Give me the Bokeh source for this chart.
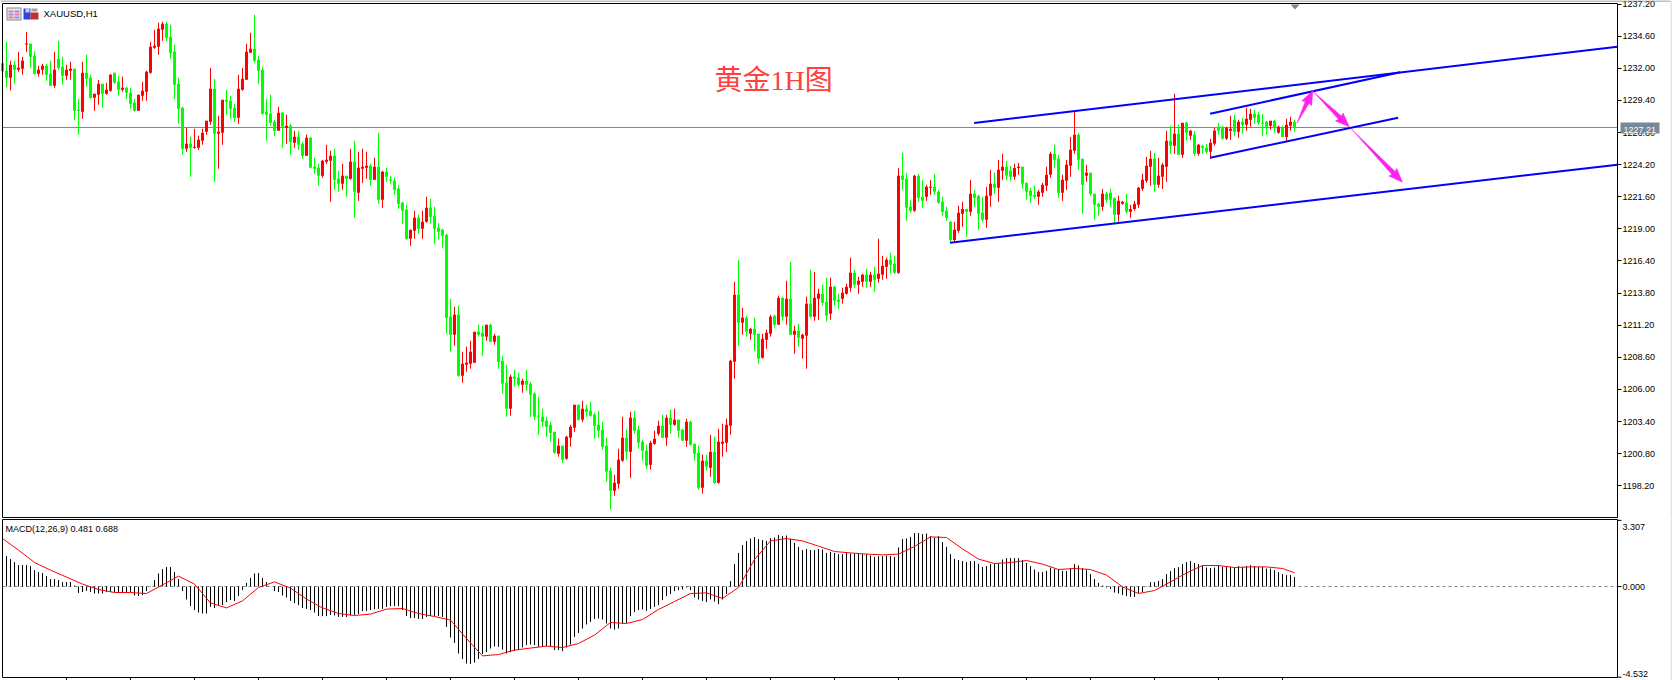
from bokeh.embed import file_html
from bokeh.layouts import column
from bokeh.models import (BoxAnnotation, ColumnDataSource, FixedTicker, Label, LinearAxis,
                          NumeralTickFormatter, PolyAnnotation, Range1d, Span)
from bokeh.plotting import figure
from bokeh.resources import INLINE

SYMBOL = "XAUUSD,H1"
MACD_NAME = "MACD(12,26,9) 0.481 0.688"
TITLE = "黄金1H图"

DIRECTION = ("GGRGRRRGGR" "RGGRGGRRGG" "RGGRRGRRGG" "RGGGRRRRRR" "RGGGGGRGRR" "RRRGRRGGGR" "RRRGGGGGGR"
             "GRGRGGRGGG" "RRRGGRGRGR" "RRGRGRGGGG" "GGRRGRRGGG" "GGGRGRRRRG" "GRGRGGGRGG" "RGGGGGGGGR"
             "GRRRGRGGGG" "GGGRRRGRGG" "GGRRRGRGRG" "GRGGGRGRGR" "RRRRGRGRGG" "RRRGRGRGRG" "RRGRRGGRGG"
             "RRRGRRGRGR" "RRGGRGGGRG" "GRRGGGGGRR" "RGRGGGRRGR" "RGGRRGGGGR" "RRRGGRRRRG" "GRGGGRGGGR"
             "RGRRRRRRGR" "RRGRGRGRGR" "GGRRGGRRGR" "GRRGGGGRGR" "GRRG")

HIGH = [
 1233.37,1234.17,1232.61,1232.61,1233.34,1232.93,1234.96,1234.01,1233.37,1232.21,
 1232.37,1232.37,1232.61,1233.34,1234.23,1232.93,1232.29,1232.53,1231.96,1229.53,
 1232.53,1233.10,1231.48,1229.94,1231.07,1230.75,1230.83,1231.56,1231.64,1231.40,
 1231.32,1230.51,1230.42,1229.53,1229.86,1230.91,1231.80,1234.15,1235.12,1235.69,
 1235.77,1235.77,1235.53,1233.91,1231.23,1228.89,1227.19,1226.46,1227.11,1226.54,
 1227.11,1227.75,1232.04,1231.15,1228.16,1229.45,1230.26,1229.78,1229.13,1231.48,
 1232.04,1233.99,1234.88,1236.34,1233.02,1232.12,1229.53,1229.86,1227.83,1228.89,
 1228.48,1228.24,1227.51,1226.94,1226.94,1226.05,1226.62,1226.46,1224.76,1224.27,
 1224.59,1225.81,1225.32,1225.49,1223.70,1224.27,1223.30,1225.49,1226.13,1225.24,
 1225.49,1225.24,1224.27,1224.76,1226.78,1223.70,1223.95,1223.30,1223.14,1222.57,
 1221.19,1220.95,1218.93,1220.47,1220.14,1220.47,1221.60,1221.44,1220.79,1219.49,
 1219.01,1218.60,1213.34,1212.70,1212.78,1209.05,1209.46,1209.94,1210.67,1211.24,
 1211.16,1211.24,1211.32,1210.51,1210.35,1208.73,1208.00,1207.19,1207.59,1207.35,
 1206.87,1207.59,1206.62,1205.81,1205.41,1204.44,1203.79,1203.38,1202.57,1202.01,
 1201.44,1202.25,1203.14,1204.76,1204.76,1205.08,1204.76,1205.00,1204.11,1204.27,
 1203.38,1202.09,1199.66,1199.09,1201.20,1203.79,1202.74,1204.19,1204.27,1203.06,
 1201.93,1201.52,1201.85,1202.66,1203.47,1203.95,1203.95,1204.36,1204.44,1203.55,
 1202.82,1203.63,1203.47,1201.60,1201.44,1200.71,1200.71,1202.33,1202.17,1202.82,
 1203.22,1203.63,1208.40,1214.72,1216.50,1212.61,1211.97,1210.99,1211.81,1210.51,
 1210.51,1210.83,1212.05,1212.05,1213.59,1213.51,1214.80,1216.34,1211.16,1211.32,
 1210.51,1213.51,1215.69,1215.53,1214.15,1214.48,1215.04,1215.04,1214.40,1213.75,
 1214.23,1214.56,1216.66,1215.69,1215.12,1215.37,1215.77,1215.53,1215.93,1218.20,
 1216.82,1216.66,1217.07,1216.82,1223.92,1225.16,1223.51,1221.35,1223.38,1223.46,
 1222.97,1222.57,1222.97,1223.46,1222.16,1221.60,1220.79,1219.65,1219.57,1220.87,
 1221.19,1220.62,1222.97,1222.16,1221.76,1221.60,1222.41,1223.78,1223.54,1224.59,
 1225.08,1224.51,1224.11,1224.27,1224.35,1224.03,1222.73,1222.33,1222.49,1222.16,
 1222.73,1224.03,1225.24,1225.81,1225.00,1223.38,1224.59,1226.45,1228.48,1226.78,
 1224.67,1224.19,1223.54,1221.84,1221.11,1222.24,1222.00,1222.24,1221.52,1221.68,
 1221.27,1221.84,1220.95,1221.27,1222.41,1223.46,1224.83,1225.32,1225.16,1224.75,
 1224.35,1226.94,1227.34,1229.94,1227.43,1227.59,1227.67,1227.02,1226.94,1225.89,
 1225.81,1225.89,1226.29,1227.18,1227.59,1227.35,1227.27,1228.16,1228.24,1227.83,
 1227.99,1228.80,1228.72,1228.64,1228.48,1228.32,1227.75,1227.75,1227.83,1227.35,
 1227.35,1227.91,1228.08,1227.83]

BODY_TOP = [
 1232.42,1231.80,1232.29,1232.29,1232.04,1232.61,1234.01,1233.99,1233.02,1231.88,
 1232.21,1232.21,1231.56,1231.88,1232.77,1232.12,1231.88,1231.96,1231.96,1228.64,
 1231.64,1231.64,1231.23,1229.94,1230.75,1230.75,1230.26,1231.48,1231.64,1230.91,
 1230.42,1230.42,1230.02,1229.21,1229.86,1230.18,1231.72,1233.74,1233.83,1235.20,
 1235.61,1235.61,1234.55,1233.34,1230.75,1228.81,1225.89,1225.89,1225.65,1226.21,
 1226.78,1227.75,1230.34,1230.34,1226.86,1229.45,1229.45,1229.37,1228.81,1230.34,
 1231.15,1233.34,1233.58,1233.58,1232.69,1231.88,1228.48,1228.32,1227.67,1228.40,
 1228.40,1227.35,1227.35,1226.46,1226.46,1225.89,1226.38,1226.38,1224.03,1223.95,
 1224.51,1224.59,1224.92,1224.92,1223.06,1223.30,1223.30,1224.43,1224.43,1223.95,
 1224.03,1224.11,1224.11,1224.03,1224.03,1223.62,1223.62,1222.98,1222.89,1222.25,
 1221.11,1220.55,1218.93,1219.90,1219.90,1219.57,1220.71,1220.71,1220.06,1219.09,
 1218.93,1218.52,1211.89,1212.05,1212.05,1208.08,1208.16,1209.05,1210.67,1210.67,
 1210.59,1211.24,1211.24,1210.35,1210.35,1208.32,1206.54,1207.03,1207.03,1206.95,
 1206.70,1206.70,1206.46,1205.65,1203.87,1203.79,1203.47,1203.14,1202.57,1201.44,
 1201.44,1202.17,1202.98,1204.76,1204.76,1204.44,1204.44,1204.27,1203.95,1203.14,
 1202.74,1201.44,1199.42,1198.44,1200.31,1202.09,1202.09,1203.71,1203.71,1202.74,
 1201.76,1201.03,1201.68,1202.01,1203.06,1203.06,1203.71,1203.71,1203.55,1203.55,
 1202.74,1203.38,1203.38,1201.60,1200.87,1200.23,1200.23,1200.95,1200.95,1201.76,
 1201.76,1203.14,1208.32,1213.67,1213.67,1211.81,1211.81,1210.91,1210.91,1210.51,
 1210.10,1210.59,1211.89,1211.97,1213.42,1213.42,1213.34,1213.34,1210.75,1210.75,
 1210.43,1212.94,1212.94,1213.42,1213.75,1213.75,1213.10,1214.31,1214.31,1213.26,
 1213.83,1214.31,1215.45,1215.45,1214.80,1215.29,1215.29,1215.29,1215.29,1215.37,
 1216.01,1216.50,1216.50,1216.18,1223.30,1223.30,1223.05,1220.79,1223.30,1223.30,
 1221.60,1222.41,1222.41,1222.41,1222.00,1221.19,1220.46,1219.57,1218.92,1220.30,
 1220.62,1220.62,1221.84,1221.84,1221.68,1220.30,1221.68,1222.65,1222.65,1223.78,
 1224.03,1224.03,1223.70,1223.94,1224.03,1224.03,1222.73,1222.08,1221.76,1222.00,
 1222.57,1223.38,1225.08,1225.08,1224.67,1222.97,1224.19,1225.40,1226.62,1226.62,
 1224.67,1223.54,1223.54,1221.84,1221.03,1221.84,1221.84,1221.92,1221.52,1221.27,
 1221.19,1221.11,1220.62,1221.03,1222.33,1222.97,1224.11,1224.67,1224.67,1223.30,
 1224.19,1226.13,1226.13,1226.70,1226.70,1227.59,1227.59,1226.94,1226.62,1225.81,
 1225.73,1225.57,1225.97,1226.94,1227.27,1227.27,1227.18,1227.10,1227.83,1227.67,
 1227.67,1227.91,1228.32,1228.32,1228.24,1227.59,1227.67,1227.75,1227.75,1227.27,
 1227.18,1227.43,1227.67,1227.67]

BODY_BOTTOM = [
 1231.75,1231.23,1231.23,1231.88,1231.88,1231.96,1233.93,1232.93,1231.56,1231.56,
 1231.88,1231.48,1230.59,1230.59,1232.04,1231.40,1231.40,1231.80,1228.56,1228.56,
 1228.48,1231.15,1229.62,1229.62,1229.86,1229.94,1229.94,1230.18,1230.83,1230.26,
 1230.26,1230.02,1229.13,1228.56,1228.56,1229.78,1230.10,1231.64,1233.66,1233.74,
 1235.12,1234.47,1233.26,1230.67,1228.72,1225.49,1225.49,1225.57,1225.57,1225.57,
 1226.13,1226.86,1227.67,1226.70,1226.70,1226.78,1229.29,1228.72,1228.00,1228.00,
 1230.26,1231.07,1233.26,1232.61,1231.80,1228.32,1228.24,1227.59,1226.94,1226.94,
 1227.27,1227.19,1226.05,1225.97,1225.81,1224.92,1224.92,1223.95,1223.87,1223.30,
 1223.30,1224.43,1224.51,1222.98,1222.65,1222.65,1223.06,1223.06,1222.00,1221.92,
 1223.87,1223.95,1222.98,1222.98,1221.36,1221.36,1223.22,1222.89,1222.17,1221.03,
 1220.47,1218.20,1218.20,1218.85,1219.01,1219.01,1219.57,1219.98,1219.01,1218.77,
 1218.44,1211.80,1210.43,1210.43,1207.11,1207.11,1208.00,1208.08,1208.16,1210.43,
 1210.27,1210.27,1209.86,1209.86,1208.24,1206.46,1204.44,1204.44,1206.87,1206.38,
 1206.38,1206.38,1205.57,1203.79,1203.79,1203.38,1202.98,1202.49,1200.87,1200.79,
 1200.31,1200.39,1202.09,1202.90,1203.55,1203.55,1204.19,1203.87,1203.06,1202.66,
 1201.36,1199.34,1197.80,1197.80,1198.36,1200.23,1200.95,1200.95,1202.66,1201.68,
 1201.03,1199.82,1199.90,1201.60,1202.41,1202.09,1202.09,1203.14,1203.14,1202.66,
 1201.85,1201.85,1201.52,1200.79,1198.04,1198.04,1199.74,1199.66,1198.44,1198.44,
 1201.60,1201.68,1203.06,1208.24,1211.40,1211.40,1210.67,1210.51,1210.43,1208.49,
 1208.57,1210.02,1210.51,1211.24,1211.24,1211.89,1211.89,1210.43,1210.43,1210.19,
 1210.10,1210.35,1211.89,1211.89,1213.34,1213.02,1211.97,1212.13,1213.18,1213.10,
 1213.34,1213.75,1214.23,1214.48,1214.48,1214.72,1214.72,1214.72,1214.88,1214.96,
 1215.29,1215.93,1216.10,1215.45,1215.44,1222.97,1220.71,1220.46,1220.46,1221.52,
 1221.27,1221.60,1222.33,1222.00,1221.11,1220.38,1219.90,1218.11,1218.11,1218.84,
 1220.22,1220.38,1220.38,1221.52,1220.22,1219.73,1219.73,1221.68,1222.33,1222.33,
 1223.70,1223.30,1223.22,1223.22,1223.94,1222.65,1222.00,1221.68,1221.60,1221.60,
 1221.92,1222.49,1223.38,1224.59,1221.92,1221.92,1222.89,1224.11,1225.32,1224.59,
 1222.57,1223.30,1221.84,1220.95,1220.79,1220.79,1221.35,1221.35,1220.14,1220.14,
 1221.03,1220.38,1220.38,1220.62,1220.95,1222.24,1222.89,1224.03,1222.57,1222.57,
 1223.22,1224.03,1225.73,1225.73,1225.00,1225.00,1226.78,1226.54,1225.08,1225.08,
 1225.57,1225.24,1225.24,1225.89,1226.94,1226.29,1226.29,1226.94,1226.86,1226.86,
 1227.43,1227.43,1227.83,1227.99,1227.59,1227.51,1227.27,1227.35,1227.18,1226.78,
 1226.45,1226.45,1227.35,1227.21]

LOW = [
 1231.75,1230.48,1230.21,1230.75,1231.72,1231.48,1233.34,1232.04,1231.48,1231.32,
 1231.48,1230.99,1230.59,1230.42,1231.88,1230.67,1231.07,1231.07,1227.83,1226.62,
 1227.91,1230.51,1229.53,1228.56,1229.05,1228.81,1229.86,1230.10,1230.75,1229.78,
 1230.10,1229.53,1228.72,1228.48,1228.56,1229.37,1229.37,1231.56,1233.58,1233.10,
 1234.23,1234.23,1232.77,1229.53,1227.51,1225.00,1225.24,1223.22,1225.49,1225.40,
 1225.81,1226.62,1227.43,1222.81,1223.87,1225.81,1228.24,1227.91,1227.67,1227.51,
 1230.18,1231.07,1233.26,1232.45,1230.75,1228.24,1226.13,1227.35,1226.54,1226.94,
 1225.57,1225.89,1225.00,1225.57,1225.40,1224.68,1224.92,1223.95,1223.46,1222.49,
 1223.14,1224.27,1221.19,1222.17,1222.00,1222.17,1221.60,1222.98,1219.90,1221.27,
 1222.73,1223.06,1222.49,1222.98,1221.03,1220.71,1222.81,1222.65,1221.76,1220.63,
 1219.41,1218.12,1217.63,1218.20,1218.60,1218.20,1219.49,1219.41,1217.79,1218.17,
 1217.47,1210.51,1209.05,1209.54,1207.03,1206.54,1207.43,1207.68,1208.16,1210.27,
 1208.73,1209.94,1209.86,1209.62,1207.68,1205.65,1203.79,1203.87,1206.22,1206.22,
 1205.73,1205.89,1203.79,1203.55,1202.33,1202.98,1202.17,1201.76,1200.79,1200.55,
 1200.06,1200.31,1201.36,1202.57,1203.47,1203.38,1203.79,1203.79,1202.01,1202.09,
 1201.12,1198.53,1196.26,1197.39,1197.96,1200.14,1200.31,1198.85,1202.41,1201.20,
 1200.23,1199.58,1199.50,1201.52,1202.25,1202.09,1201.44,1202.41,1203.06,1202.09,
 1201.85,1201.36,1201.44,1200.23,1197.88,1197.55,1199.42,1198.93,1198.36,1198.36,
 1200.55,1200.95,1202.33,1206.87,1209.54,1210.43,1210.27,1210.02,1209.13,1208.08,
 1208.49,1209.29,1210.27,1211.00,1211.24,1211.56,1211.24,1210.43,1208.89,1209.46,
 1208.49,1207.68,1211.81,1211.56,1211.64,1212.78,1211.51,1211.64,1212.78,1212.53,
 1212.94,1213.67,1213.91,1214.23,1213.75,1214.31,1214.23,1214.31,1213.91,1214.64,
 1214.88,1214.96,1215.37,1215.37,1215.36,1222.16,1219.65,1220.30,1220.38,1221.19,
 1220.71,1221.27,1221.76,1221.76,1221.03,1220.06,1219.65,1217.95,1217.95,1218.68,
 1219.17,1218.36,1220.06,1220.79,1218.92,1219.57,1219.09,1220.79,1221.84,1221.19,
 1222.97,1222.97,1222.89,1222.97,1223.38,1222.24,1221.35,1221.11,1221.43,1220.95,
 1221.60,1222.08,1223.13,1223.94,1221.52,1221.27,1222.16,1223.22,1225.08,1223.78,
 1220.22,1222.81,1221.68,1219.73,1220.06,1220.46,1221.11,1220.79,1219.33,1219.57,
 1220.95,1220.22,1219.90,1220.46,1220.71,1222.08,1222.73,1222.49,1222.00,1222.33,
 1222.24,1222.81,1225.08,1225.08,1225.00,1224.76,1226.13,1226.21,1224.92,1224.92,
 1225.08,1225.08,1224.67,1225.73,1226.62,1226.21,1226.21,1226.21,1226.54,1226.37,
 1226.70,1226.94,1227.27,1227.51,1227.43,1226.54,1226.62,1227.02,1226.78,1226.70,
 1226.45,1226.13,1226.94,1226.86]

MACD = [
 0.00,1.52,1.37,1.22,1.07,1.07,1.07,1.02,0.82,0.72,
 0.67,0.52,0.37,0.37,0.32,0.22,0.22,0.22,0.05,-0.32,
 -0.28,-0.22,-0.27,-0.35,-0.35,-0.35,-0.28,-0.28,-0.28,-0.28,
 -0.28,-0.28,-0.28,-0.45,-0.48,-0.43,-0.23,0.02,0.32,0.65,
 0.87,0.97,0.97,0.73,0.37,-0.23,-0.65,-0.98,-1.18,-1.30,
 -1.35,-1.35,-1.02,-1.08,-0.93,-0.93,-0.78,-0.68,-0.72,-0.48,
 -0.18,0.18,0.43,0.65,0.67,0.43,0.22,0.00,-0.23,-0.28,
 -0.45,-0.55,-0.72,-0.83,-0.93,-1.08,-1.12,-1.18,-1.30,-1.48,
 -1.48,-1.48,-1.42,-1.45,-1.52,-1.52,-1.52,-1.45,-1.42,-1.38,
 -1.23,-1.23,-1.18,-1.13,-1.12,-1.12,-1.02,-0.98,-0.98,-0.98,
 -1.18,-1.48,-1.58,-1.58,-1.62,-1.62,-1.52,-1.48,-1.48,-1.48,
 -1.52,-2.02,-2.55,-2.82,-3.35,-3.63,-3.85,-3.87,-3.80,-3.62,
 -3.38,-3.28,-3.10,-3.00,-3.02,-3.15,-3.35,-3.28,-3.22,-3.18,
 -3.05,-2.93,-2.90,-2.93,-3.02,-3.02,-2.98,-2.98,-3.18,-3.18,
 -3.23,-3.05,-2.90,-2.52,-2.32,-2.10,-1.90,-1.77,-1.63,-1.60,
 -1.65,-1.85,-2.10,-2.15,-2.10,-1.85,-1.82,-1.48,-1.28,-1.18,
 -1.15,-1.22,-1.12,-1.02,-0.93,-0.68,-0.48,-0.38,-0.23,-0.18,
 -0.15,-0.05,-0.18,-0.55,-0.65,-0.72,-0.78,-0.65,-0.75,-0.88,
 -0.65,-0.38,0.27,1.12,1.68,2.07,2.27,2.40,2.47,2.37,
 2.32,2.28,2.42,2.45,2.57,2.52,2.55,2.38,2.18,1.98,
 1.82,1.87,1.82,1.82,1.87,1.85,1.68,1.73,1.68,1.62,
 1.62,1.68,1.65,1.65,1.65,1.62,1.62,1.55,1.48,1.52,
 1.52,1.55,1.52,1.48,1.95,2.37,2.40,2.48,2.67,2.67,
 2.62,2.65,2.52,2.45,2.52,2.22,1.98,1.62,1.38,1.32,
 1.27,1.22,1.27,1.27,1.13,0.98,1.02,1.12,1.15,1.18,
 1.35,1.42,1.42,1.42,1.42,1.32,1.18,1.02,0.85,0.73,
 0.72,0.78,0.95,0.88,0.88,0.78,0.78,0.92,1.12,1.05,
 0.92,0.82,0.62,0.37,0.18,0.05,-0.05,-0.13,-0.30,-0.35,
 -0.42,-0.48,-0.52,-0.52,-0.32,-0.28,0.02,0.22,0.22,0.27,
 0.37,0.62,0.77,0.92,0.97,1.12,1.22,1.27,1.18,1.12,
 1.05,0.95,0.92,0.95,1.05,0.98,0.97,0.98,0.95,1.02,
 0.98,1.02,1.07,1.03,0.98,0.98,0.90,0.90,0.82,0.72,
 0.62,0.57,0.57,0.48]

# signal line, read every fourth bar, plus the last bar
SIGNAL_BAR = list(range(0, 321, 4)) + [323]
SIGNAL = [
 2.40,1.82,1.20,0.82,0.47,0.12,-0.15,-0.30,-0.30,-0.35,
 0.08,0.52,0.12,-0.82,-1.07,-0.72,-0.05,0.23,-0.08,-0.63,
 -1.07,-1.35,-1.45,-1.38,-1.13,-1.10,-1.35,-1.50,-1.68,-2.60,
 -3.47,-3.40,-3.18,-3.08,-2.98,-3.05,-2.85,-2.43,-1.80,-1.85,
 -1.65,-1.15,-0.75,-0.35,-0.32,-0.60,-0.05,1.35,2.28,2.40,
 2.28,2.02,1.75,1.68,1.62,1.58,1.62,2.00,2.48,2.45,
 1.88,1.37,1.15,1.20,1.30,1.12,0.85,0.90,0.85,0.57,
 -0.02,-0.35,-0.20,0.23,0.68,1.05,1.05,0.95,0.98,0.98,
 0.90,0.688]

PRICE_TICKS = [1237.2, 1234.6, 1232.0, 1229.4, 1226.8, 1224.2, 1221.6, 1219.0,
               1216.4, 1213.8, 1211.2, 1208.6, 1206.0, 1203.4, 1200.8, 1198.2]
BID = 1227.21
MACD_MAX = 3.307
MACD_MIN = -4.532
TIME_TICK_BARS = list(range(16, 321, 16))

# drawn objects: (bar, price) anchors
TREND_BARS = [[236.9, 403.75], [242.9, 403.75], [301.9, 349.4], [301.9, 348.9]]
TREND_PRICES = [[1217.88, 1224.20], [1227.57, 1233.75], [1228.33, 1231.68], [1224.76, 1228.00]]
ARROW_BARS = [[323.6, 327.6], [327.7, 336.7], [337.3, 350.0]]
ARROW_PRICES = [[1227.55, 1230.19], [1230.11, 1227.27], [1227.06, 1222.77]]

for lst in (HIGH, BODY_TOP, BODY_BOTTOM, LOW, MACD):
    assert len(lst) == 324, len(lst)
assert len(DIRECTION) == 324, len(DIRECTION)
assert len(SIGNAL) == len(SIGNAL_BAR), (len(SIGNAL), len(SIGNAL_BAR))

W = 1672
H1 = 518
H2 = 162
FONT = "Liberation Sans"
RED, GREEN, BLUE, MAGENTA, SLATE = "#ff0000", "#00ff00", "#0000ff", "#ff22ee", "#778899"
PX_PER_BAR = 4.0
PX_PER_PRICE = 12.35
AXIS_BAR = 403.75
PRICE_TOP, PRICE_BOTTOM = 1237.25, 1195.63
MACD_TOP, MACD_BOTTOM = 3.35, -4.55

x_range = Range1d(-0.5, 417.5)
bars = list(range(324))


def edge_lines(fig, top, bottom):
    fig.segment(x0=[0, 0, 0], x1=[AXIS_BAR, AXIS_BAR, 0], y0=[top, bottom, bottom], y1=[top, bottom, top],
                line_color="black", line_width=1)


def style_axis(axis):
    axis.major_label_text_font = FONT
    axis.major_label_text_font_size = "9px"
    axis.major_label_text_color = "black"
    axis.major_label_standoff = 1
    axis.major_tick_in = 0
    axis.major_tick_out = 4
    axis.minor_tick_out = 0
    axis.minor_tick_in = 0
    axis.axis_line_color = "black"


# ---------- price pane ----------
p = figure(width=W, height=H1, x_range=x_range, y_range=Range1d(1195.549, 1237.493),
           x_axis_location=None, y_axis_location=None, output_backend="svg", toolbar_location=None,
           min_border=0, background_fill_color="white", border_fill_color="white", outline_line_color=None)
p.grid.visible = False
ax = LinearAxis(fixed_location=AXIS_BAR, ticker=FixedTicker(ticks=PRICE_TICKS),
                formatter=NumeralTickFormatter(format="0.00"), bounds=(PRICE_BOTTOM, PRICE_TOP))
style_axis(ax)
p.add_layout(ax, "right")

p.segment(x0=[0], x1=[AXIS_BAR], y0=[BID], y1=[BID], line_color=SLATE, line_width=1)

src = ColumnDataSource(dict(
    x=bars, high=HIGH, low=LOW, top=BODY_TOP, bottom=BODY_BOTTOM,
    color=[RED if d == "R" else GREEN for d in DIRECTION]))
p.segment(x0="x", x1="x", y0="low", y1="high", line_color="color", line_width=1, source=src)
p.vbar(x="x", width=3 / PX_PER_BAR, top="top", bottom="bottom", fill_color="color",
       line_color=None, source=src)
edge_lines(p, PRICE_TOP, PRICE_BOTTOM)

for xs, ys in zip(TREND_BARS, TREND_PRICES):
    p.line(xs, ys, line_color=BLUE, line_width=2)

# tapered arrows, built from their anchors in pixel space
xs_all, ys_all = [], []
for (x0, x1), (y0, y1) in zip(ARROW_BARS, ARROW_PRICES):
    dx = (x1 - x0) * PX_PER_BAR
    dy = (y1 - y0) * PX_PER_PRICE
    ln = (dx * dx + dy * dy) ** 0.5
    ux, uy = dx / ln, dy / ln
    nx, ny = -uy, ux
    neck = 13.0
    poly = [(0, 0), (ln - neck, 2.2), (ln - neck - 1, 5.5), (ln, 0), (ln - neck - 1, -5.5), (ln - neck, -2.2)]
    xs_all.append([x0 + (a * ux + b * nx) / PX_PER_BAR for a, b in poly])
    ys_all.append([y0 + (a * uy + b * ny) / PX_PER_PRICE for a, b in poly])
p.patches(xs_all, ys_all, fill_color=MAGENTA, line_color=MAGENTA, line_width=0.5)

p.add_layout(Label(x=43, y=H1 - 18, x_units="screen", y_units="screen", text=SYMBOL,
                   text_font=FONT, text_font_size="9.5px", text_color="black"))
p.add_layout(Label(x=714, y=H1 - 95, x_units="screen", y_units="screen", text=TITLE,
                   text_font="Liberation Serif, Noto Sans CJK SC", text_font_size="28px",
                   text_color="#ff4040"))


def box(l, t, r, b, color, fig=p, h=H1, level="annotation"):
    fig.add_layout(BoxAnnotation(left=l, right=r, top=h - t, bottom=h - b,
                                 left_units="screen", right_units="screen",
                                 top_units="screen", bottom_units="screen",
                                 fill_color=color, fill_alpha=1, line_color=None, level=level))


# bid tag on the scale
box(1620, 122, 1659, 133, SLATE)
p.add_layout(Label(x=1623, y=H1 - 132, x_units="screen", y_units="screen", text=f"{BID:.2f}",
                   text_font=FONT, text_font_size="9px", text_color="white"))

# window chrome and title-bar icons
box(0, 0, W - 2, 1, "#808080")
box(W - 2, 0, W, H1, "#e4e4e4")
box(6, 7, 21, 20, "#8a8a8a")
box(7, 8, 20, 19, "#e8e8f4")
for t, c in ((10, "#f07878"), (13, "#8890e8"), (16, "#f07878")):
    box(8, t, 13, t + 2, c)
    box(14, t, 19, t + 2, "#8890e8" if c == "#f07878" else "#f07878")
box(23, 8, 30, 19, "#3044d8")
box(30, 12, 38, 19, "#c03030")
box(31, 8, 37, 11, "#a0a0a0")
box(25, 8, 29, 12, "#c8d0f4")

p.add_layout(PolyAnnotation(xs=[1290, 1299, 1294.5], ys=[H1 - 4, H1 - 4, H1 - 9], xs_units="screen", ys_units="screen",
                            fill_color=SLATE, fill_alpha=1, line_color=None))

# ---------- MACD pane ----------
q = figure(width=W, height=H2, x_range=x_range, y_range=Range1d(-4.7, 3.4),
           x_axis_location=None, y_axis_location=None, output_backend="svg", toolbar_location=None,
           min_border=0, background_fill_color="white", border_fill_color="white", outline_line_color=None)
q.grid.visible = False
ya = LinearAxis(fixed_location=AXIS_BAR, ticker=FixedTicker(ticks=[0]),
                formatter=NumeralTickFormatter(format="0.000"), bounds=(MACD_BOTTOM, MACD_TOP))
style_axis(ya)
q.add_layout(ya, "right")

q.segment(x0=[0], x1=[AXIS_BAR], y0=[0], y1=[0], line_color=SLATE, line_width=1, line_dash="3 3")
q.segment(x0=bars, x1=bars, y0=[0] * 324, y1=MACD, line_color="black", line_width=1)
q.line(SIGNAL_BAR, SIGNAL, line_color=RED, line_width=1)
edge_lines(q, MACD_TOP, MACD_BOTTOM)

# time ticks under the pane and the two scale end ticks
q.segment(x0=TIME_TICK_BARS, x1=TIME_TICK_BARS, y0=[MACD_BOTTOM] * len(TIME_TICK_BARS),
          y1=[MACD_BOTTOM - 3 / 20] * len(TIME_TICK_BARS), line_color="black", line_width=1)
q.segment(x0=[AXIS_BAR] * 2, x1=[AXIS_BAR + 1] * 2, y0=[MACD_MAX, MACD_MIN], y1=[MACD_MAX, MACD_MIN],
          line_color="black", line_width=1)

q.add_layout(Label(x=5, y=H2 - 15, x_units="screen", y_units="screen", text=MACD_NAME,
                   text_font=FONT, text_font_size="9px", text_color="black"))
q.add_layout(Label(x=1622, y=H2 - 11, x_units="screen", y_units="screen", text=f"{MACD_MAX:.3f}",
                   text_font=FONT, text_font_size="9px", text_color="black"))
q.add_layout(Label(x=1622, y=H2 - 158, x_units="screen", y_units="screen", text=f"{MACD_MIN:.3f}",
                   text_font=FONT, text_font_size="9px", text_color="black"))
box(W - 2, 0, W, H2, "#e4e4e4", fig=q, h=H2)

root = column(p, q, spacing=0, styles={"position": "absolute", "left": "0px", "top": "0px"})
open("out.html", "w").write(file_html(root, INLINE))
